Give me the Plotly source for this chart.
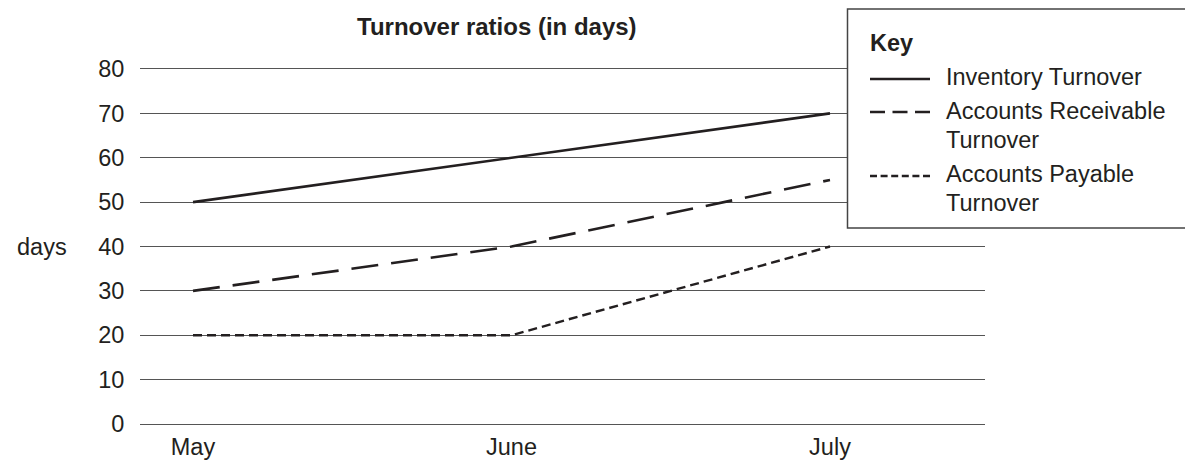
import plotly.graph_objects as go

months = ["May", "June", "July"]
inventory = [50, 60, 70]
receivable = [30, 40, 55]
payable = [20, 20, 40]
y_ticks = [0, 10, 20, 30, 40, 50, 60, 70, 80]
series_names = ["Inventory Turnover", "Accounts Receivable<br>Turnover", "Accounts Payable<br>Turnover"]

W, H = 1185, 463
# plot area in window pixel coordinates
L, R, T, B = 140, 985, 69, 424
INK = "#231f20"
FONT = "Liberation Sans, Arial, sans-serif"
FS = 23.5


def px(x):
    return (x - L) / (R - L)


def py(y):
    return (B - y) / (B - T)


xs = list(range(len(months)))
fig = go.Figure()
styles = [
    dict(color=INK, width=2.6, dash="solid"),
    dict(color=INK, width=2.6, dash="27px,13px"),
    dict(color=INK, width=2.4, dash="9px,5px"),
]
for vals, name, st in zip([inventory, receivable, payable], series_names, styles):
    fig.add_trace(go.Scatter(x=xs, y=vals, mode="lines", name=name.replace("<br>", " "),
                             line=st, showlegend=False))

shapes = [
    dict(type="rect", xref="paper", yref="paper", x0=px(847.5), x1=px(1200), y0=py(228), y1=py(9),
         fillcolor="white", line=dict(color="#444", width=1.5), layer="above"),
]
key_lines = [(79, "solid"), (112, "15px,7.5px"), (176, "7px,3.6px")]
for yy, d in key_lines:
    shapes.append(dict(type="line", xref="paper", yref="paper", x0=px(870), x1=px(930), y0=py(yy), y1=py(yy),
                       line=dict(color=INK, width=2.4, dash=d), layer="above"))

annotations = [
    dict(text="<b>Turnover ratios (in days)</b>", xref="paper", yref="paper", x=px(497), y=py(27),
         showarrow=False, font=dict(size=24, color=INK, family=FONT), xanchor="center", yanchor="middle"),
    dict(text="days", xref="paper", yref="paper", x=px(42), y=py(247),
         showarrow=False, font=dict(size=FS, color=INK, family=FONT), xanchor="center", yanchor="middle"),
    dict(text="<b>Key</b>", xref="paper", yref="paper", x=px(868), y=py(43),
         showarrow=False, font=dict(size=FS, color=INK, family=FONT), xanchor="left", yanchor="middle"),
]
# legend text rows: (series index, line index within wrapped name, y pixel)
row_y = [[77], [111, 140], [174, 203]]
for name, ys in zip(series_names, row_y):
    for part, yy in zip(name.split("<br>"), ys):
        annotations.append(dict(text=part, xref="paper", yref="paper", x=px(944), y=py(yy), align="left",
                                showarrow=False, font=dict(size=FS, color=INK, family=FONT),
                                xanchor="left", yanchor="middle"))

fig.update_layout(
    width=W, height=H,
    margin=dict(l=L, r=W - R, t=T, b=H - B, pad=0, autoexpand=False),
    paper_bgcolor="white", plot_bgcolor="white",
    font=dict(family=FONT, size=FS, color=INK),
    shapes=shapes, annotations=annotations,
    xaxis=dict(range=[-53 / 318.5, 2 + 155 / 318.5], tickmode="array", tickvals=xs, ticktext=months,
               showgrid=False, zeroline=False, showline=True, mirror=True, linecolor="#555", linewidth=1,
               ticks="outside", ticklen=2, automargin=False,
               tickcolor="rgba(0,0,0,0)", tickfont=dict(size=FS, color=INK)),
    yaxis=dict(range=[0, 80], tickmode="array", tickvals=y_ticks, showgrid=True, gridcolor="#555",
               gridwidth=1, zeroline=False, showline=False, automargin=False,
               ticks="outside", ticklen=10, tickcolor="rgba(0,0,0,0)", tickfont=dict(size=FS, color=INK)),
)

fig.write_html(
    "out.html",
    config={"displayModeBar": False},
    post_script="document.body.style.margin='0';document.body.style.overflow='hidden';",
)
